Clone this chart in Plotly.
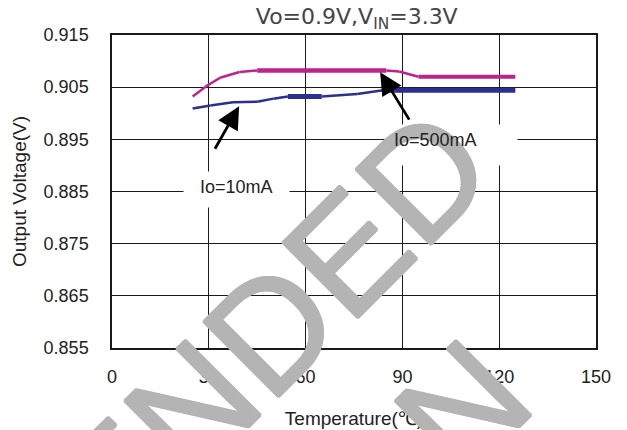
import plotly.graph_objects as go

# ---- data ----
temp_500 = [25, 29, 33.5, 39.5, 45, 85, 89, 95, 125]
volt_500 = [0.9032, 0.9051, 0.9068, 0.9079, 0.9082, 0.9082, 0.9080, 0.9070, 0.9070]
temp_10 = [25, 30.5, 37.5, 45, 50, 54.5, 65, 76, 84, 125]
volt_10 = [0.9009, 0.9015, 0.9021, 0.9022, 0.9028, 0.9032, 0.9032, 0.9037, 0.9044, 0.9044]
x_ticks = [0, 30, 60, 90, 120, 150]
y_ticks = [0.855, 0.865, 0.875, 0.885, 0.895, 0.905, 0.915]

# ---- styles ----
width_500 = [2.5, 2.5, 2.5, 2.5, 4.5, 2.5, 2.5, 4]
width_10 = [2.5, 2.5, 2.5, 2.5, 2.5, 5, 2.5, 2.5, 5]
MAGENTA = "#BE228F"
BLUE = "#2D2E91"
FONT = "Liberation Sans, Arial, sans-serif"
WM = "#B4B4B4"
r = 1.2
WM_SHADOW = ", ".join(f"{dx}px {dy}px 0 {WM}" for dx, dy in
                      [(r, 0), (-r, 0), (0, r), (0, -r)])

fig = go.Figure()

def add_series(xs, ys, widths, color):
    for i in range(len(xs) - 1):
        fig.add_trace(go.Scatter(
            x=xs[i:i + 2], y=ys[i:i + 2], mode="lines",
            line=dict(color=color, width=widths[i]),
            showlegend=False, hoverinfo="skip"))

add_series(temp_500, volt_500, width_500, MAGENTA)
add_series(temp_10, volt_10, width_10, BLUE)

annotations = []
# white boxes behind labels (cover grid lines)
annotations.append(dict(x=38.6, y=0.88547, xref="x", yref="y", text=" ", showarrow=False,
                        bgcolor="white", width=105, height=35, borderpad=0))
annotations.append(dict(x=105.4, y=0.89385, xref="x", yref="y", text=" ", showarrow=False,
                        bgcolor="white", width=130, height=40, borderpad=0))
# watermark
annotations.append(dict(x=-0.455, y=-1.152, xref="paper", yref="paper", text="NOT RECOMMENDED",
                        showarrow=False, textangle=-45, xanchor="center", yanchor="middle",
                        font=dict(family=FONT, size=155, color=WM, shadow=WM_SHADOW)))
annotations.append(dict(x=-0.193, y=-1.613, xref="paper", yref="paper", text="FOR NEW DESIGN",
                        showarrow=False, textangle=-45, xanchor="center", yanchor="middle",
                        font=dict(family=FONT, size=155, color=WM, shadow=WM_SHADOW)))
# arrows
annotations.append(dict(x=39.4, y=0.90135, xref="x", yref="y", text="", showarrow=True,
                        ax=-25, ay=44, arrowhead=2, arrowsize=1.6, arrowwidth=2.8, arrowcolor="black"))
annotations.append(dict(x=83.1, y=0.90788, xref="x", yref="y", text="", showarrow=True,
                        ax=30, ay=49, arrowhead=2, arrowsize=1.6, arrowwidth=2.8, arrowcolor="black"))
# labels
annotations.append(dict(x=38.7, y=0.88595, xref="x", yref="y", text="Io=10mA", showarrow=False,
                        font=dict(family=FONT, size=18, color="#222")))
annotations.append(dict(x=100.4, y=0.8949, xref="x", yref="y", text="Io=500mA", showarrow=False,
                        font=dict(family=FONT, size=18, color="#222")))

fig.update_layout(
    width=627, height=430,
    margin=dict(l=112, r=31, t=35, b=82),
    paper_bgcolor="white", plot_bgcolor="white",
    title=dict(text="Vo=0.9V,V<sub>IN</sub>=3.3V", x=0.569, xanchor="center", y=0.962,
               yanchor="middle", font=dict(family="DejaVu Sans, sans-serif", size=22, color="#444")),
    font=dict(family=FONT, size=18, color="#222"),
    annotations=annotations,
)
fig.update_xaxes(range=[0, 150], tickvals=x_ticks, ticktext=[str(v) for v in x_ticks],
                 showgrid=True, gridcolor="#1a1a1a", gridwidth=1.3, automargin=False,
                 showline=True, linecolor="#1a1a1a", linewidth=1.5, mirror=True,
                 ticks="outside", ticklen=12, tickcolor="rgba(0,0,0,0)",
                 zeroline=False, tickfont=dict(size=18),
                 title=dict(text="Temperature(℃)", font=dict(size=19), standoff=25))
fig.update_yaxes(range=[0.855, 0.915], tickvals=y_ticks, ticktext=[f"{v:.3f}" for v in y_ticks],
                 showgrid=True, gridcolor="#1a1a1a", gridwidth=1.3, automargin=False,
                 showline=True, linecolor="#1a1a1a", linewidth=1.5, mirror=True,
                 ticks="outside", ticklen=18, tickcolor="rgba(0,0,0,0)",
                 zeroline=False, tickfont=dict(size=18),
                 title=dict(text="Output Voltage(V)", font=dict(size=19), standoff=12))

fig.write_html("out.html", config={"displayModeBar": False},
               post_script="document.body.style.margin='0';")
